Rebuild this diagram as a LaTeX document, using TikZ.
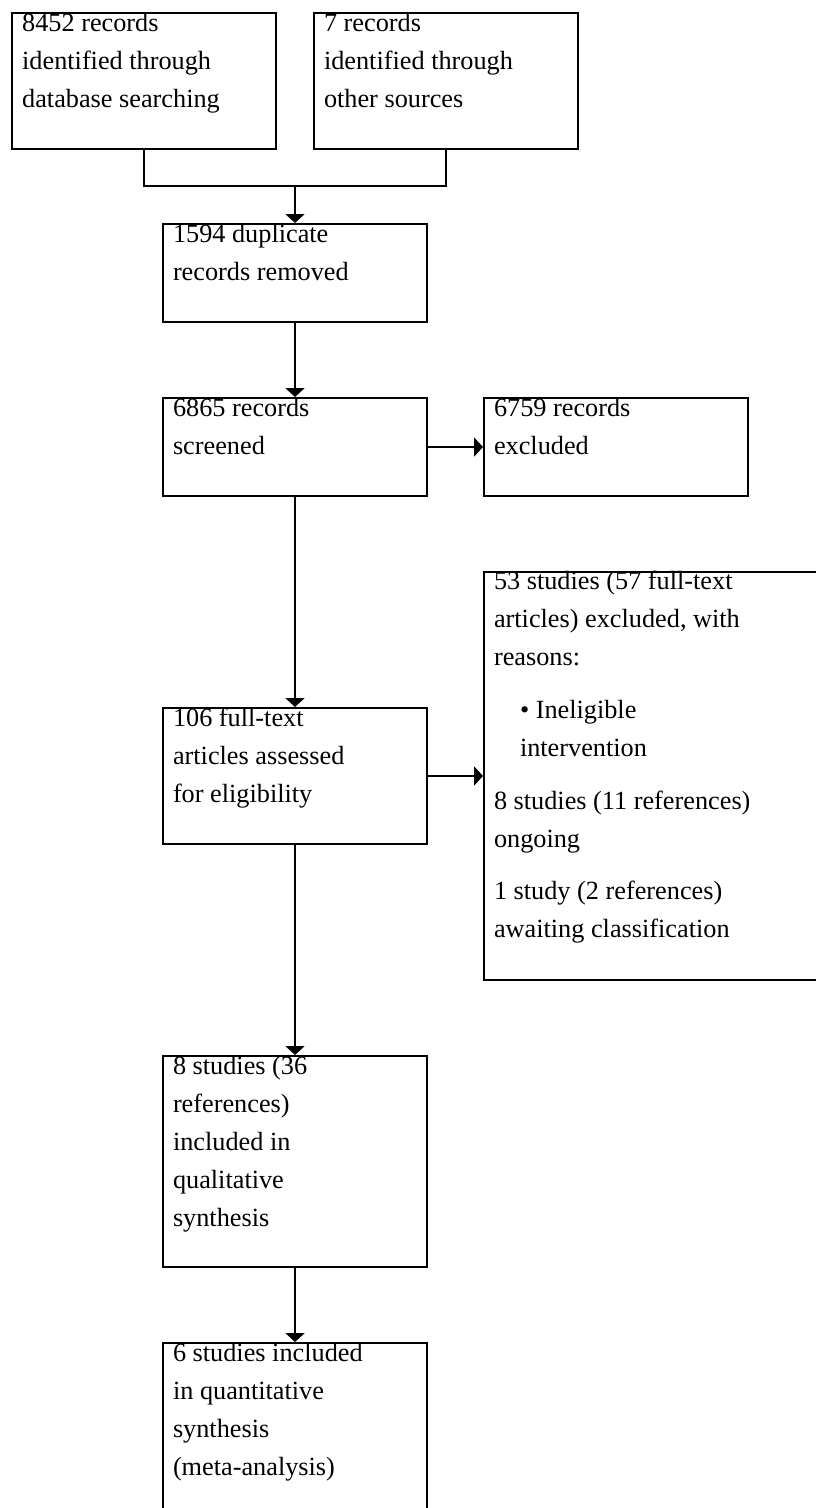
\documentclass[tikz,border=0pt]{standalone}
\usepackage{fontspec}
\setmainfont{Liberation Serif}
\usetikzlibrary{arrows.meta}

\begin{document}
\begin{tikzpicture}[x=0.75pt,y=-0.75pt,line width=1.5pt,
 box/.style={draw,inner sep=0pt,minimum width=198pt},
 txt/.style={anchor=north west,align=left,inner sep=0pt,font=\fontsize{19.7pt}{28.5pt}\selectfont},
 arr/.style={-{Triangle[length=6.6pt,width=14pt]}}]
\useasboundingbox (0,0) rectangle (815,1508);
\node[box,minimum height=102pt] (dbase) at (143.5,81){};
\node[box,minimum height=102pt] (other) at (446,81){};
\node[box,minimum height=73.5pt] (dupl) at (295,273){};
\node[box,minimum height=73.5pt] (scrn) at (295,447){};
\node[box,minimum height=73.5pt] (excl) at (616,447){};
\node[box,minimum height=102pt] (full) at (295,776){};
\node[box,minimum width=262.5pt,minimum height=306pt] (ftex) at (659,776){};
\node[box,minimum height=158.25pt] (qual) at (295,1161.5){};
\node[box,minimum height=150pt] (quan) at (295,1443){};
\node[txt] at ([xshift=8pt,yshift=-0.2pt]dbase.north west){8452 records\\identified through\\database searching};
\node[txt] at ([xshift=7.5pt,yshift=-0.2pt]other.north west){7 records\\identified through\\other sources};
\node[txt] at ([xshift=7.5pt,yshift=-0.2pt]dupl.north west){1594 duplicate\\records removed};
\node[txt] at ([xshift=7.5pt,yshift=-0.2pt]scrn.north west){6865 records\\screened};
\node[txt] at ([xshift=7.5pt,yshift=-0.2pt]excl.north west){6759 records\\excluded};
\node[txt] at ([xshift=7.5pt,yshift=-0.2pt]full.north west){106 full-text\\articles assessed\\for eligibility};
\node[txt] at ([xshift=7.5pt,yshift=0.5pt]ftex.north west){53 studies (57 full-text\\articles) excluded, with\\reasons:\\[11pt]\hspace*{19.5pt}• Ineligible\\\hspace*{19.5pt}intervention\\[11pt]8 studies (11 references)\\ongoing\\[11pt]1 study (2 references)\\awaiting classification};
\node[txt] at ([xshift=7.5pt,yshift=-0.2pt]qual.north west){8 studies (36\\references)\\included in\\qualitative\\synthesis};
\node[txt] at ([xshift=7.5pt,yshift=-0.2pt]quan.north west){6 studies included\\in quantitative\\synthesis\\(meta-analysis)};
\coordinate (mrg) at (295,186.5);
\draw (dbase.south) |- (mrg) -| (other.south);
\draw[arr] (mrg) -- (dupl.north);
\draw[arr] (dupl.south) -- (scrn.north);
\draw[arr] (scrn.east) -- (excl.west);
\draw[arr] (scrn.south) -- (full.north);
\draw[arr] (full.east) -- (ftex.west);
\draw[arr] (full.south) -- (qual.north);
\draw[arr] (qual.south) -- (quan.north);
\end{tikzpicture}
\end{document}
